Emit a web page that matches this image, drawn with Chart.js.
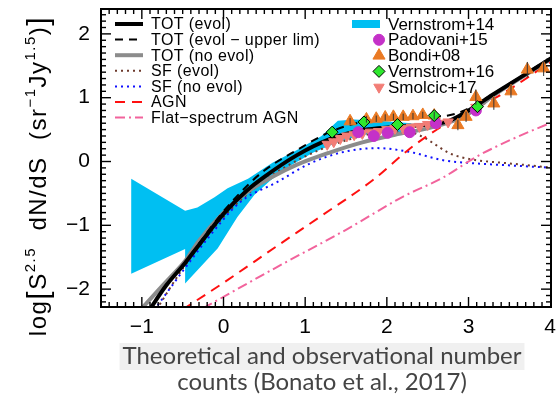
<!DOCTYPE html>
<html><head><meta charset="utf-8">
<script src="https://cdn.jsdelivr.net/npm/chart.js@4.4.1/dist/chart.umd.min.js"></script>
<style>html,body{margin:0;padding:0;background:#fff;}canvas{display:block;}</style>
</head><body>
<canvas id="c" width="559" height="396"></canvas>
<script>
// ---- tick labels ----
const xTicks = [-1, 0, 1, 2, 3, 4];
const yTicks = [-2, -1, 0, 1, 2];

// ---- model curves (log S vs log S^2.5 dN/dS) ----
const totEvolX = [-0.92, -0.7, -0.47, -0.32, 0, 0.29, 0.5, 0.9, 1.3, 1.7, 2.1, 2.5, 2.75, 2.95, 3.3, 3.7, 4.05];
const totEvolY = [-2.35, -1.94, -1.59, -1.34, -0.82, -0.45, -0.24, 0.1, 0.35, 0.49, 0.54, 0.58, 0.63, 0.76, 1.05, 1.37, 1.65];
const totUpperY = [-2.35, -1.94, -1.58, -1.32, -0.78, -0.38, -0.14, 0.18, 0.46, 0.62, 0.66, 0.70, 0.72, 0.80, 1.06, 1.38, 1.66];
const totNoEvolX = [-1.02, -0.8, -0.64, -0.47, -0.3, 0, 0.3, 0.6, 0.9, 1.3, 1.7, 2.1, 2.5, 2.9, 3.05, 3.3, 3.7, 4.05];
const totNoEvolY = [-2.33, -2.02, -1.8, -1.56, -1.24, -0.8, -0.47, -0.24, -0.05, 0.14, 0.3, 0.42, 0.52, 0.68, 0.79, 1.03, 1.36, 1.64];
const sfEvolX = [-0.82, -0.5, 0, 0.5, 1.0, 1.5, 2.0, 2.3, 2.45, 2.6, 2.75, 2.9, 3.1, 3.5, 4.05];
const sfEvolY = [-2.32, -1.68, -0.87, -0.3, 0.08, 0.33, 0.46, 0.45, 0.38, 0.26, 0.14, 0.07, 0.02, -0.03, -0.1];
const sfNoEvolX = [-0.85, -0.5, -0.19, 0.2, 0.66, 1.06, 1.47, 1.87, 2.28, 2.69, 3.09, 3.49, 4.05];
const sfNoEvolY = [-2.33, -1.72, -1.2, -0.64, -0.32, -0.03, 0.15, 0.21, 0.15, 0.02, -0.03, -0.06, -0.1];
const agnX = [-0.5, 0, 0.66, 1.2, 1.83, 2.28, 2.6, 2.9, 3.4, 4.05];
const agnY = [-2.32, -1.9, -1.32, -0.85, -0.29, 0.2, 0.49, 0.72, 1.05, 1.6];
const flatX = [-0.25, 0.66, 1.5, 2.2, 2.69, 3.09, 3.5, 4.05];
const flatY = [-2.3, -1.65, -1.07, -0.55, -0.25, 0.07, 0.33, 0.63];

// ---- Vernstrom+14 band (upper edge left->right, lower edge right->left) ----
const bandUpperX = [-1.13, -0.47, -0.32, -0.11, 0.05, 0.3, 0.6, 0.9, 1.2, 1.4, 1.6, 1.9, 2.1, 2.3];
const bandUpperY = [-0.27, -0.77, -0.72, -0.56, -0.42, -0.27, -0.02, 0.18, 0.4, 0.64, 0.66, 0.64, 0.62, 0.6];
const bandLowerX = [2.3, 2.0, 1.7, 1.4, 1.1, 0.8, 0.57, 0.38, 0.17, -0.07, -0.47, -0.47, -1.13];
const bandLowerY = [0.47, 0.45, 0.42, 0.3, 0.14, -0.08, -0.3, -0.52, -0.87, -1.36, -1.91, -1.37, -1.76];

// ---- observations ----
const padovaniX = [1.65, 1.84, 2.01, 2.28, 2.6, 3.09];
const padovaniY = [0.46, 0.40, 0.45, 0.46, 0.60, 0.80];
const bondiX = [1.55, 1.75, 1.87, 1.98, 2.08, 2.2, 2.32, 2.44, 2.58, 2.87, 2.97, 3.09, 3.31, 3.52, 3.72, 3.92];
const bondiY = [0.63, 0.66, 0.67, 0.69, 0.70, 0.70, 0.71, 0.73, 0.72, 0.57, 0.70, 1.01, 0.91, 1.10, 1.44, 1.46];
const bondiErr = [0.05, 0.05, 0.05, 0.05, 0.05, 0.05, 0.05, 0.05, 0.06, 0.08, 0.08, 0.12, 0.1, 0.1, 0.12, 0.12];
const vern16X = [1.33, 1.72, 2.13, 2.58, 3.11];
const vern16Y = [0.46, 0.62, 0.58, 0.72, 0.86];
const smolcicX = [1.27, 1.35, 1.43, 1.51, 1.6, 1.7, 1.8, 1.9, 2.0, 2.1, 2.2, 2.3, 2.4, 2.5, 2.62, 2.75, 3.09];
const smolcicY = [0.27, 0.31, 0.36, 0.40, 0.42, 0.44, 0.46, 0.47, 0.50, 0.52, 0.52, 0.54, 0.55, 0.58, 0.60, 0.62, 0.85];

const legendLeft = ['TOT (evol)', 'TOT (evol \u2212 upper lim)', 'TOT (no evol)', 'SF (evol)', 'SF (no evol)', 'AGN', 'Flat\u2212spectrum AGN'];
const legendRight = ['Vernstrom+14', 'Padovani+15', 'Bondi+08', 'Vernstrom+16', 'Smolcic+17'];
const captionLines = ['Theoretical and observational number', 'counts (Bonato et al., 2017)'];

const pts = (xs, ys) => xs.map((x, i) => ({x: x, y: ys[i]}));
const line = (lbl, xs, ys, color, w, dash) => ({
  type: 'line', label: lbl, data: pts(xs, ys), borderColor: color, borderWidth: w,
  borderDash: dash, pointRadius: 0, fill: false, tension: 0.4, cubicInterpolationMode: 'monotone'
});

const dsVern16 = {type: 'scatter', label: legendRight[3], data: pts(vern16X, vern16Y), pointStyle: 'rectRot', pointRadius: 6,
  backgroundColor: '#2ee82e', borderColor: '#000', borderWidth: 1};
const dsPad = {type: 'scatter', label: legendRight[1], data: pts(padovaniX, padovaniY), pointStyle: 'circle', pointRadius: 5.5,
  backgroundColor: '#c431c8', borderColor: '#c431c8', borderWidth: 1};
const dsBondi = {type: 'scatter', label: legendRight[2], data: pts(bondiX, bondiY), pointStyle: 'triangle', pointRadius: 7,
  backgroundColor: '#ea7a24', borderColor: '#ea7a24', borderWidth: 1};
const dsSmol = {type: 'scatter', label: legendRight[4], data: pts(smolcicX, smolcicY), pointStyle: 'triangle', rotation: 180, pointRadius: 6,
  backgroundColor: '#f27d76', borderColor: '#f27d76', borderWidth: 1};
const dsTot = line(legendLeft[0], totEvolX, totEvolY, '#000', 4, []);
const dsUpper = line(legendLeft[1], totEvolX, totUpperY, '#000', 2, [8, 6]);
const dsNoEvol = line(legendLeft[2], totNoEvolX, totNoEvolY, '#8c8c8c', 4, []);
const dsSF = line(legendLeft[3], sfEvolX, sfEvolY, '#6e3a2c', 2, [2, 4]);
const dsSFno = line(legendLeft[4], sfNoEvolX, sfNoEvolY, '#1010ff', 2, [2, 4]);
const dsAGN = line(legendLeft[5], agnX, agnY, '#ff1010', 2, [10, 7]);
const dsFlat = line(legendLeft[6], flatX, flatY, '#f2639c', 2, [10, 4, 2, 4]);
const dsBand = {type: 'line', label: legendRight[0],
  data: pts(bandUpperX.concat(bandLowerX), bandUpperY.concat(bandLowerY)),
  borderWidth: 0, borderColor: 'rgba(0,0,0,0)', backgroundColor: '#00bff2', pointRadius: 0, fill: 'shape', tension: 0};

const fmt = v => (v < 0 ? '\u2212' + Math.abs(v) : String(v));
const FONT = '"Liberation Sans", Arial, sans-serif';

const decor = {
  id: 'decor',
  afterDatasetsDraw(chart) {
    const ctx = chart.ctx, x = chart.scales.x, y = chart.scales.y;
    ctx.save();
    ctx.strokeStyle = '#333'; ctx.lineWidth = 1;
    bondiX.forEach((v, i) => {
      const px = x.getPixelForValue(v);
      ctx.beginPath();
      ctx.moveTo(px, y.getPixelForValue(bondiY[i] - bondiErr[i]));
      ctx.lineTo(px, y.getPixelForValue(bondiY[i] + bondiErr[i]));
      ctx.stroke();
    });
    ctx.restore();
  },
  afterDraw(chart) {
    const ctx = chart.ctx, a = chart.chartArea, x = chart.scales.x, y = chart.scales.y;
    ctx.save();
    // ticks on all four sides, pointing inward
    ctx.strokeStyle = '#000'; ctx.lineWidth = 1.4;
    const seg = (x1, y1, x2, y2) => { ctx.beginPath(); ctx.moveTo(x1, y1); ctx.lineTo(x2, y2); ctx.stroke(); };
    for (let i = -15; i <= 40; i++) {
      const px = x.getPixelForValue(i / 10);
      if (px < a.left + 1 || px > a.right - 1) continue;
      const L = (i % 10 === 0) ? 10 : 5;
      seg(px, a.bottom, px, a.bottom - L); seg(px, a.top, px, a.top + L);
    }
    for (let i = -22; i <= 23; i++) {
      const py = y.getPixelForValue(i / 10);
      if (py < a.top + 1 || py > a.bottom - 1) continue;
      const L = (i % 10 === 0) ? 10 : 5;
      seg(a.left, py, a.left + L, py); seg(a.right, py, a.right - L, py);
    }
    ctx.lineWidth = 2;
    ctx.strokeRect(a.left, a.top, a.right - a.left, a.bottom - a.top);

    // legend (left column: lines)
    const left = [dsTot, dsUpper, dsNoEvol, dsSF, dsSFno, dsAGN, dsFlat];
    ctx.font = '16px ' + FONT; ctx.fillStyle = '#000'; ctx.textBaseline = 'middle'; ctx.textAlign = 'left';
    ctx.letterSpacing = '0.4px';
    left.forEach((d, i) => {
      const yy = a.top + 15 + i * 15.6;
      ctx.strokeStyle = d.borderColor; ctx.lineWidth = d.borderWidth; ctx.setLineDash(d.borderDash);
      seg(a.left + 14, yy, a.left + 42, yy);
      ctx.setLineDash([]);
      ctx.fillText(d.label, a.left + 50, yy + 1);
    });
    // legend (right column: band and symbols)
    const rx = 377, tx = 388;
    const ry = i => a.top + 15 + i * 15.8;
    ctx.fillStyle = dsBand.backgroundColor; ctx.fillRect(352, ry(0) - 4, 28, 8);
    const syms = [dsPad, dsBondi, dsVern16, dsSmol];
    syms.forEach((d, i) => {
      ctx.fillStyle = d.backgroundColor; ctx.strokeStyle = d.borderColor; ctx.lineWidth = d.borderWidth;
      Chart.helpers.drawPoint(ctx, {pointStyle: d.pointStyle, radius: d.pointRadius, rotation: d.rotation || 0, borderWidth: d.borderWidth},
        rx + 2, ry(i + 1));
    });
    ctx.fillStyle = '#000'; ctx.font = '17px ' + FONT; ctx.letterSpacing = '0px';
    legendRight.forEach((t, i) => ctx.fillText(t, tx, ry(i) + 1));

    // y-axis title with superscripts
    ctx.translate(46, 176); ctx.rotate(-Math.PI / 2);
    const runs = [
      {t: 'log', s: 24, dy: 0}, {t: '[', s: 30, dy: 2}, {t: 'S', s: 24, dy: 0}, {t: '2.5', s: 15, dy: -11},
      {t: '  dN/dS  (sr', s: 24, dy: 0}, {t: '\u22121', s: 15, dy: -11}, {t: 'Jy', s: 24, dy: 0},
      {t: '1.5', s: 15, dy: -11}, {t: ')', s: 24, dy: 0}, {t: ']', s: 30, dy: 2}
    ];
    ctx.textBaseline = 'alphabetic'; ctx.fillStyle = '#000';
    ctx.letterSpacing = '1.5px';
    let total = 0;
    runs.forEach(r => { ctx.font = r.s + 'px ' + FONT; r.w = ctx.measureText(r.t).width; total += r.w; });
    let cx = -total / 2;
    runs.forEach(r => { ctx.font = r.s + 'px ' + FONT; ctx.fillText(r.t, cx, r.dy); cx += r.w; });
    ctx.restore();

    // caption
    ctx.save();
    ctx.font = '24px Lato, "Open Sans", sans-serif';
    ctx.textAlign = 'center'; ctx.textBaseline = 'alphabetic';
    const w1 = ctx.measureText(captionLines[0]).width;
    ctx.fillStyle = '#f0f0f0'; ctx.fillRect(322 - w1 / 2 - 3, 343, w1 + 6, 27);
    ctx.fillStyle = '#444';
    ctx.fillText(captionLines[0], 322, 364);
    ctx.fillText(captionLines[1], 322, 390);
    ctx.restore();
  }
};

new Chart(document.getElementById('c'), {
  data: {datasets: [dsVern16, dsPad, dsBondi, dsSmol, dsTot, dsUpper, dsNoEvol, dsAGN, dsFlat, dsSF, dsSFno, dsBand]},
  options: {
    responsive: false, animation: false, devicePixelRatio: 1,
    layout: {padding: {left: 0, right: 3, top: 9, bottom: 0}},
    plugins: {legend: {display: false}, tooltip: {enabled: false}, title: {display: false}},
    scales: {
      x: {type: 'linear', min: -1.5, max: 4.01,
        grid: {display: false, drawTicks: false}, border: {display: false},
        ticks: {color: '#000', font: {family: FONT, size: 21}, padding: 8, maxRotation: 0, callback: fmt},
        afterBuildTicks: s => { s.ticks = xTicks.map(v => ({value: v})); },
        afterFit: s => { s.height = 89; s.paddingLeft = 0; s.paddingRight = 0; }},
      y: {type: 'linear', min: -2.28, max: 2.39,
        grid: {display: false, drawTicks: false}, border: {display: false},
        ticks: {color: '#000', font: {family: FONT, size: 21}, padding: 11, callback: fmt},
        afterBuildTicks: s => { s.ticks = yTicks.map(v => ({value: v})); },
        afterFit: s => { s.width = 101; s.paddingTop = 0; s.paddingBottom = 0; }}
    }
  },
  plugins: [decor]
});
</script>
</body></html>
